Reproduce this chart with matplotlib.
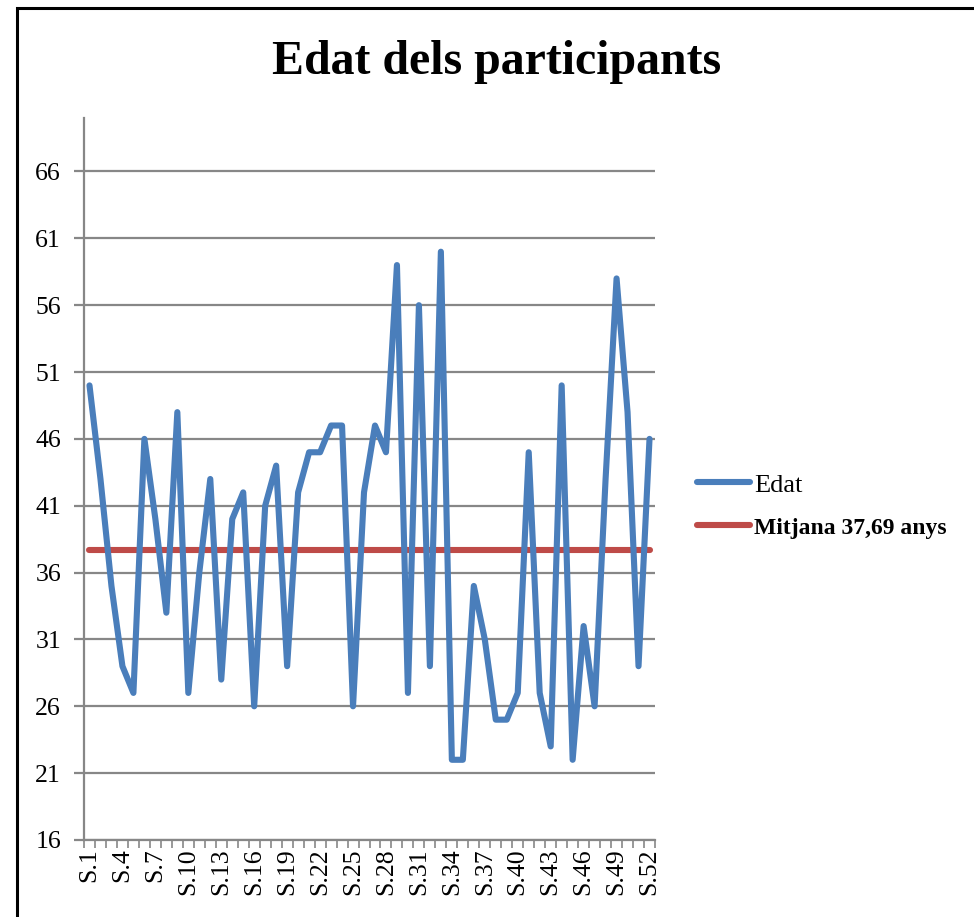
import matplotlib
matplotlib.use("Agg")
import matplotlib.pyplot as plt
from matplotlib.patches import Rectangle
from matplotlib.lines import Line2D

# Participant ages (S.1 ... S.52)
participants = [f"S.{i}" for i in range(1, 53)]
ages = [50, 43, 35, 29, 27, 46, 40, 33, 48, 27,
        36, 43, 28, 40, 42, 26, 41, 44, 29, 42,
        45, 45, 47, 47, 26, 42, 47, 45, 59, 27,
        56, 29, 60, 22, 22, 35, 31, 25, 25, 27,
        45, 27, 23, 50, 22, 32, 26, 43, 58, 48,
        29, 46]
mean_age = 37.69
mean_series = [mean_age] * len(participants)

y_ticks = [16, 21, 26, 31, 36, 41, 46, 51, 56, 61, 66]
series_labels = ["Edat", "Mitjana 37,69 anys"]
title = "Edat dels participants"

BLUE = "#4A7EBB"
RED = "#BE4B48"
GRID = "#878787"
SERIF = ["Liberation Serif", "DejaVu Serif"]

plt.rcParams["font.family"] = SERIF

W, H = 974, 917
fig = plt.figure(figsize=(W / 100, H / 100), dpi=100)

# outer chart border
fig.patches.append(Rectangle((17 / W, -0.1), 2.0, 1 - 8 / H + 0.1,
                             transform=fig.transFigure, fill=False,
                             edgecolor="black", linewidth=2.2, zorder=0))

ax = fig.add_axes([84 / W, 1 - 840 / H, (655 - 84) / W, (840 - 118) / H])

x = list(range(len(participants)))
ax.plot(x, mean_series, color=RED, linewidth=4.4, solid_capstyle="round",
        zorder=3, label=series_labels[1])
ax.plot(x, ages, color=BLUE, linewidth=4.4, solid_capstyle="round",
        solid_joinstyle="round", zorder=4, label=series_labels[0])

ax.set_xlim(-0.5, len(participants) - 0.5)
ax.set_ylim(16, 70)

ax.set_yticks(y_ticks)
ax.set_yticklabels([str(v) for v in y_ticks], fontsize=18.5)
ax.yaxis.grid(True, color=GRID, linewidth=1.6)
ax.set_axisbelow(True)

# category boundaries as tick marks, labels every third category
ax.set_xticks([i - 0.5 for i in range(len(participants) + 1)])
ax.set_xticklabels([])
ax.set_xticks(x[::3], minor=True)
ax.set_xticklabels(participants[::3], minor=True, rotation=90, fontsize=18.5)
ax.tick_params(axis="x", which="major", length=6, width=1.2, color=GRID, direction="out")
ax.tick_params(axis="x", which="minor", length=0, pad=6)
ax.tick_params(axis="y", length=7, width=1.6, color=GRID, pad=9.5)

for side in ("top", "right"):
    ax.spines[side].set_visible(False)
for side in ("left", "bottom"):
    ax.spines[side].set_color(GRID)
    ax.spines[side].set_linewidth(1.6)

fig.text(497 / W, 1 - 62 / H, title, ha="center", va="center",
         fontsize=34.5, fontweight="bold", family=SERIF)

handles = [Line2D([], [], color=BLUE, linewidth=4.4, solid_capstyle="round"),
           Line2D([], [], color=RED, linewidth=4.4, solid_capstyle="round")]
leg = fig.legend(handles, series_labels, loc="center left",
                 bbox_to_anchor=(684 / W, 1 - 506 / H), frameon=False,
                 fontsize=19, handlelength=2.0, handletextpad=0.15,
                 labelspacing=0.72, borderpad=0)
leg.get_texts()[1].set_fontweight("bold")
leg.get_texts()[1].set_fontsize(17)

fig.savefig("out.png", dpi=100)
